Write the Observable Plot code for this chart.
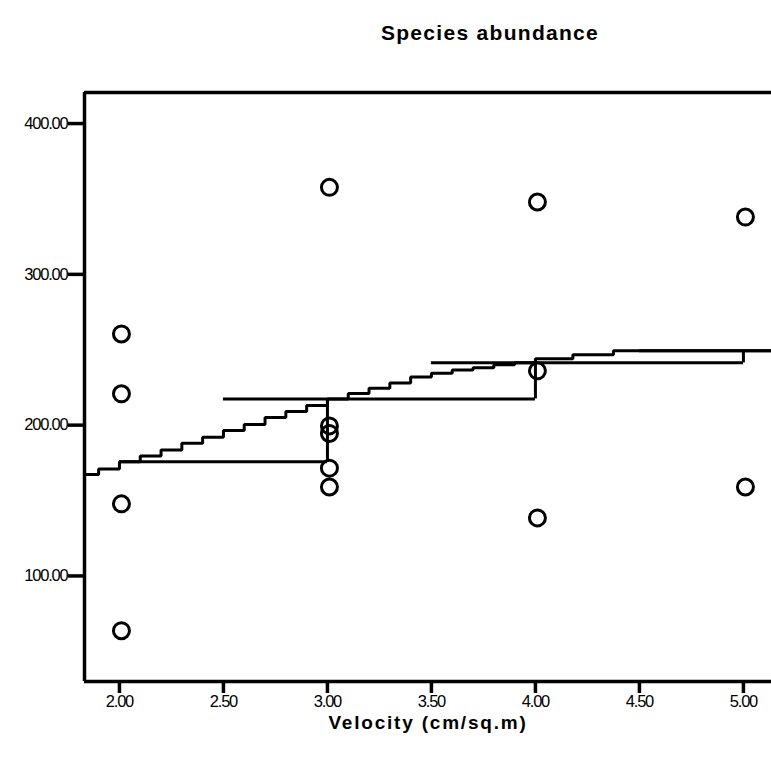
<!DOCTYPE html>
<html><head><meta charset="utf-8">
<script src="https://cdn.jsdelivr.net/npm/d3@7"></script>
<script src="https://cdn.jsdelivr.net/npm/@observablehq/plot@0.6"></script>
<style>
body{margin:0;background:#fff;}
#wrap{position:relative;width:771px;height:760px;overflow:hidden;background:#fff;}
#title{position:absolute;top:21px;left:0;width:980px;text-align:center;font:bold 21px "Liberation Sans",Arial,sans-serif;letter-spacing:1.3px;color:#000;}
#chart{position:absolute;top:0;left:0;}
#chart svg g[aria-label="x-axis tick label"] text,
#chart svg g[aria-label="y-axis tick label"] text{font-size:16.5px !important;letter-spacing:-1.2px;}
#chart svg g[aria-label="text"] text{letter-spacing:1.8px;}
</style></head><body>
<div id="wrap"><div id="chart"></div><div id="title">Species abundance</div></div>
<script>
// observed points
const velocity = [2, 2, 2, 2, 3, 3, 3, 3, 3, 4, 4, 4, 5, 5];
const abundance = [260.5, 220.8, 147.8, 63.7, 357.7, 199.5, 194.5, 171.5, 159, 348, 236, 138.5, 338, 159];
// group mean step segments
const meanAbundance = [175.7, 217.4, 241.3, 249.3];
const meanFrom = [2.0, 2.5, 3.5, 4.5];
const meanTo = [3.0, 4.0, 5.0, 6.0];
// fitted staircase line
const fitVelocity = [1.832, 1.9, 2.0, 2.1, 2.2, 2.3, 2.4, 2.5, 2.6, 2.7, 2.8, 2.9, 3.0, 3.1, 3.2, 3.3, 3.4, 3.5, 3.6, 3.7, 3.8, 3.9, 4.0, 4.18, 4.375, 5.135];
const fitAbundance = [167.3, 171, 175.7, 179.5, 183.5, 188, 192, 196.5, 200.5, 205, 209, 213, 217.4, 221, 224.5, 228, 232, 234.5, 236.5, 238, 240, 241.3, 244, 246.7, 249.3, 249.3];
// ticks
const xTicks = [2, 2.5, 3, 3.5, 4, 4.5, 5];
const yTicks = [100, 200, 300, 400];
const xDomain = [1.832, 5.135];
const yDomain = [30, 420.6];

const font = "Liberation Sans, Arial, sans-serif";
const pts = velocity.map((v, i) => ({v, a: abundance[i]}));
const segs = meanAbundance.map((m, i) => ({m, x1: meanFrom[i], x2: meanTo[i]}));
const conn = meanAbundance.slice(0, -1).map((m, i) => ({x: meanTo[i], y1: m, y2: meanAbundance[i + 1]}));
const fit = fitVelocity.map((v, i) => ({v, a: fitAbundance[i]}));

const plot = Plot.plot({
  width: 771, height: 760,
  marginTop: 92, marginBottom: 79, marginLeft: 84, marginRight: 0,
  x: {domain: xDomain},
  y: {domain: yDomain},
  style: {fontFamily: font, background: "#fff", color: "#000", overflow: "visible"},
  marks: [
    Plot.axisY({ticks: yTicks, tickFormat: d => d.toFixed(2), tickSize: 16, tickPadding: 1, strokeWidth: 3.5, label: null}),
    Plot.axisX({ticks: xTicks, tickFormat: d => d.toFixed(2), tickSize: 12, tickPadding: 2, strokeWidth: 3.5, label: null}),
    Plot.text(["Velocity (cm/sq.m)"], {frameAnchor: "bottom", lineAnchor: "middle", dy: 41, fontSize: 19, fontWeight: "bold"}),
    Plot.line(fit, {x: "v", y: "a", curve: "step-after", stroke: "#000", strokeWidth: 3, strokeLinejoin: "miter", clip: true}),
    Plot.ruleY(segs, {y: "m", x1: "x1", x2: "x2", stroke: "#000", strokeWidth: 3, clip: true}),
    Plot.ruleX(conn, {x: "x", y1: "y1", y2: "y2", stroke: "#000", strokeWidth: 3}),
    Plot.dot(pts, {x: "v", y: "a", r: 8, dx: 2, stroke: "#000", strokeWidth: 3, fill: "none"}),
    Plot.ruleX([xDomain[0]], {stroke: "#000", strokeWidth: 3.5}),
    Plot.ruleY([yDomain[0], yDomain[1]], {stroke: "#000", strokeWidth: 3.5})
  ]
});
document.getElementById("chart").appendChild(plot);
</script>
</body></html>
